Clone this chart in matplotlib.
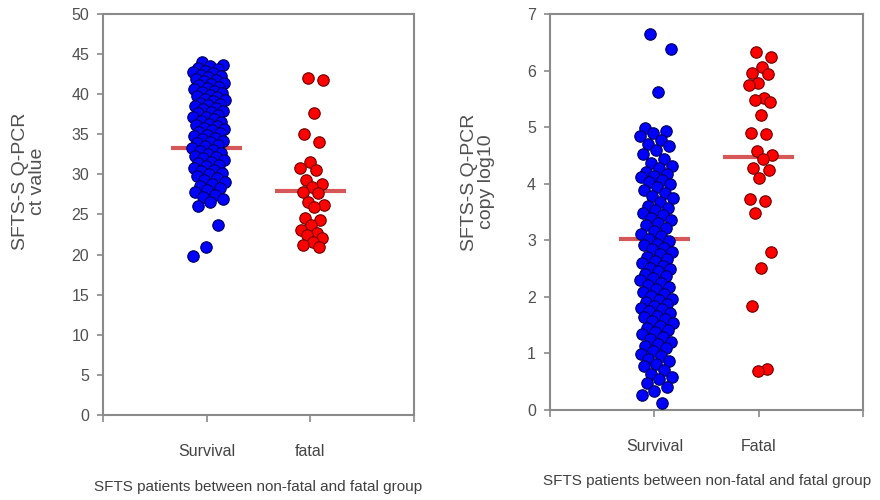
import matplotlib
matplotlib.use("Agg")
import matplotlib.pyplot as plt
import numpy as np
from matplotlib.transforms import Bbox

# SFTS-S Q-PCR ct values
ct_survival = [
    44.0, 43.7, 43.5, 43.3, 43.1, 42.9, 42.8, 42.6, 42.4, 42.3, 42.1, 41.9,
    41.8, 41.6, 41.4, 41.3, 41.1, 40.9, 40.8, 40.6, 40.4, 40.3, 40.1, 39.9,
    39.8, 39.6, 39.4, 39.3, 39.1, 38.9, 38.8, 38.6, 38.5, 38.3, 38.1, 37.9,
    37.8, 37.6, 37.4, 37.2, 37.1, 36.9, 36.7, 36.5, 36.3, 36.2, 36.0, 35.8,
    35.6, 35.5, 35.3, 35.1, 34.9, 34.8, 34.6, 34.4, 34.2, 34.1, 33.9, 33.7,
    33.5, 33.3, 33.1, 32.9, 32.7, 32.5, 32.3, 32.2, 32.0, 31.8, 31.6, 31.4,
    31.2, 31.0, 30.8, 30.6, 30.4, 30.2, 30.0, 29.8, 29.5, 29.3, 29.1, 28.8,
    28.6, 28.3, 28.1, 27.8, 27.4, 27.2, 26.9, 26.5, 26.1, 23.7, 21.0, 19.8,
]
ct_fatal = [
    42.0, 41.8, 37.7, 35.0, 34.0, 31.6, 30.8, 30.5, 29.3, 28.8, 28.4, 27.8,
    27.7, 26.6, 26.2, 25.9, 24.6, 24.3, 23.7, 23.1, 22.7, 22.4, 22.1, 21.6,
    21.2, 20.9,
]

# SFTS-S Q-PCR copy log10
copy_survival = [
    6.65, 6.38, 5.62, 4.98, 4.93, 4.90, 4.84, 4.77, 4.71, 4.66, 4.59, 4.53,
    4.44, 4.37, 4.31, 4.27, 4.21, 4.17, 4.14, 4.11, 4.07, 4.03, 3.99, 3.94,
    3.89, 3.84, 3.79, 3.74, 3.67, 3.61, 3.57, 3.54, 3.49, 3.44, 3.39, 3.35,
    3.31, 3.27, 3.21, 3.17, 3.11, 3.07, 3.03, 2.99, 2.94, 2.91, 2.87, 2.84,
    2.79, 2.75, 2.71, 2.67, 2.64, 2.59, 2.55, 2.51, 2.49, 2.45, 2.41, 2.37,
    2.34, 2.29, 2.25, 2.21, 2.17, 2.14, 2.09, 2.05, 2.01, 1.97, 1.94, 1.91,
    1.87, 1.84, 1.81, 1.79, 1.75, 1.71, 1.67, 1.64, 1.61, 1.57, 1.54, 1.49,
    1.45, 1.41, 1.37, 1.34, 1.29, 1.25, 1.21, 1.17, 1.14, 1.09, 1.04, 0.99,
    0.95, 0.91, 0.87, 0.81, 0.77, 0.71, 0.64, 0.59, 0.54, 0.47, 0.41, 0.34,
    0.27, 0.12,
]
copy_fatal = [
    6.33, 6.24, 6.06, 5.95, 5.94, 5.78, 5.74, 5.51, 5.48, 5.44, 5.21, 4.90,
    4.88, 4.58, 4.50, 4.43, 4.28, 4.25, 4.10, 3.73, 3.69, 3.49, 2.80, 2.51,
    1.84, 0.72, 0.69,
]

ct_means = [33.3, 27.9]
copy_means = [3.02, 4.47]

left_groups = ["Survival", "fatal"]
right_groups = ["Survival", "Fatal"]
xlabel_text = "SFTS patients between non-fatal and fatal group"

BLUE = "#0000ff"
RED = "#ff0000"
MEAN_COLOR = "#d65757"
SPINE = "#8a8a8a"
TEXT = "#505050"


def jitter(n, width):
    # golden-ratio sequence: evenly spread, repeatable horizontal offsets
    frac = (np.arange(n) * 0.6180339887 + 0.31) % 1.0
    return (frac - 0.5) * 2 * width


def strip_panel(ax, groups, values, means, ylim, yticks):
    colors = [(BLUE, "#00005a"), (RED, "#6e0000")]
    widths = [0.16, 0.12]
    for i, (vals, mean) in enumerate(zip(values, means)):
        pos = i + 1
        ax.hlines(mean, pos - 0.34, pos + 0.34, color=MEAN_COLOR, lw=3, zorder=2)
        xs = pos + 0.02 + jitter(len(vals), widths[i])
        ax.scatter(xs, vals, s=68, c=colors[i][0], edgecolors=colors[i][1],
                   linewidths=0.8, zorder=3)

    ax.set_xlim(0, 3)
    ax.set_ylim(*ylim)
    ax.set_yticks(yticks)
    ax.set_xticks([0, 1, 2, 3])
    ax.set_xticklabels([""] + groups + [""])
    for s in ax.spines.values():
        s.set_color(SPINE)
        s.set_linewidth(1.5)
    ax.tick_params(axis="y", direction="out", length=4, width=1.2, color=SPINE,
                   labelsize=11.5, labelcolor=TEXT, pad=6)
    ax.tick_params(axis="x", direction="out", length=5, width=1.2, color=SPINE,
                   labelsize=11.5, labelcolor="#444444", pad=16)


plt.rcParams["font.family"] = ["Liberation Sans", "DejaVu Sans"]
fig = plt.figure(figsize=(8.8, 5), dpi=100)

ax1 = fig.add_axes([0.117, 0.17, 0.3534, 0.802])
strip_panel(ax1, left_groups, [ct_survival, ct_fatal], ct_means,
            (0, 50), np.arange(0, 51, 5))

ax2 = fig.add_axes([0.625, 0.18, 0.3557, 0.792])
strip_panel(ax2, right_groups, [copy_survival, copy_fatal], copy_means,
            (0, 7), np.arange(0, 8, 1))

# y axis titles
fig.text(29 / 880, 1 - 181 / 500, "SFTS-S Q-PCR\nct value", rotation=90,
         ha="center", va="center", ma="center", fontsize=14, color=TEXT,
         linespacing=1.0)
fig.text(478 / 880, 1 - 182 / 500, "SFTS-S Q-PCR\ncopy log10", rotation=90,
         ha="center", va="center", ma="center", fontsize=14, color=TEXT,
         linespacing=1.0)

# x axis titles, the left one cut at the panel edge
t1 = fig.text(258 / 880, 1 - 487 / 500, xlabel_text, ha="center", va="center",
              fontsize=11, color="#404040")
t1.set_clip_box(Bbox.from_extents(0, 0, 424, 500))
t1.set_clip_on(True)
fig.text(707 / 880, 1 - 481 / 500, xlabel_text, ha="center", va="center",
         fontsize=11, color="#404040")

fig.savefig("out.png", dpi=100)
